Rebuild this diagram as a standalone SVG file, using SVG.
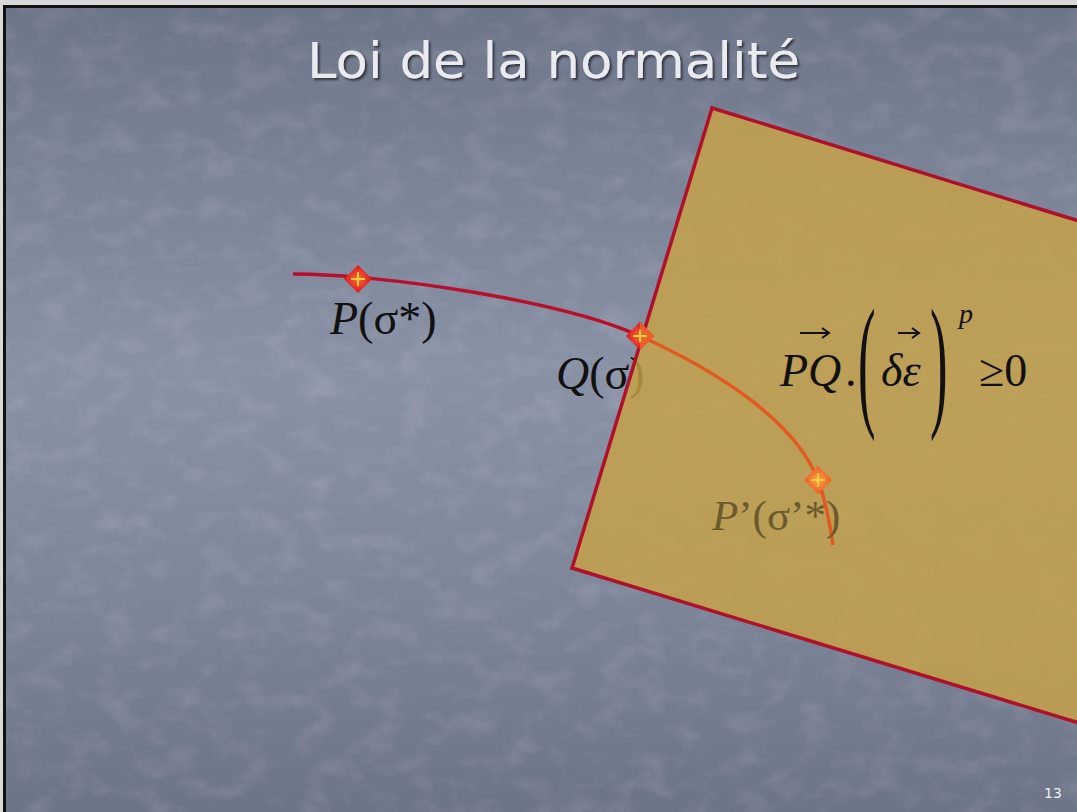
<svg xmlns="http://www.w3.org/2000/svg" width="1077" height="812" viewBox="0 0 1077 812">
<defs>
<linearGradient id="bg" x1="0" y1="0" x2="0" y2="1">
<stop offset="0" stop-color="#6d7588"/>
<stop offset="0.2" stop-color="#7a8296"/>
<stop offset="0.45" stop-color="#8991a5"/>
<stop offset="0.7" stop-color="#7f879b"/>
<stop offset="1" stop-color="#6c7487"/>
</linearGradient>
<filter id="tex" x="0" y="0" width="100%" height="100%">
<feTurbulence type="fractalNoise" baseFrequency="0.03 0.045" numOctaves="3" seed="7" result="n"/>
<feColorMatrix in="n" type="matrix" values="0 0 0 0 1  0 0 0 0 1  0 0 0 0 1  0 0 0 1.2 -0.55"/>
</filter>
<filter id="sh" x="-5%" y="-20%" width="110%" height="140%">
<feDropShadow dx="2" dy="2" stdDeviation="1" flood-color="#2a2e38" flood-opacity="0.9"/>
</filter>
<radialGradient id="redm"><stop offset="0" stop-color="#ff6a3a"/><stop offset="1" stop-color="#d8141e"/></radialGradient>
<radialGradient id="orm"><stop offset="0" stop-color="#ffa050"/><stop offset="1" stop-color="#ee5a1e"/></radialGradient>
<style>
.lbl{font-family:"Liberation Serif","Times New Roman",serif;font-size:46px;fill:#111}
.it{font-style:italic}
.title{font-family:"DejaVu Sans",Tahoma,sans-serif;font-size:50px;fill:#e9ebf0}
.cross{stroke:#ffd23a;stroke-width:2}
.par{font-family:"Liberation Serif","Times New Roman",serif;font-size:146px;fill:#111}
</style>
</defs>
<rect x="0" y="0" width="1077" height="812" fill="#d9d9d9"/>
<rect x="6" y="8" width="1071" height="804" fill="url(#bg)"/>
<rect x="6" y="8" width="1071" height="804" filter="url(#tex)" opacity="0.2"/>
<line x1="4.5" y1="6" x2="4.5" y2="812" stroke="#111" stroke-width="3"/>
<line x1="3" y1="6.5" x2="1077" y2="6.5" stroke="#111" stroke-width="3"/>

<g id="title"><text class="title" x="307" y="78" textLength="493" lengthAdjust="spacingAndGlyphs" filter="url(#sh)">Loi de la normalité</text></g>

<g id="labels-outside">
<text class="lbl" x="330" y="334"><tspan class="it">P</tspan>(σ*)</text>
<text class="lbl" x="556" y="389"><tspan class="it">Q</tspan>(σ)</text>
</g>

<g id="connectors">
<path id="curve-red" d="M293,274 C380,274 560,300 640,336" fill="none" stroke="#b8102c" stroke-width="3.5"/>
</g>

<g id="plane">
<polygon points="712,108 1092,225 1092,727 572,568" fill="#c8a246" fill-opacity="0.82" stroke="#b0102a" stroke-width="3.5" stroke-linejoin="miter"/>
</g>

<g id="connectors-inside">
<path d="M640,336 C715,370 795,420 818,480 C826,502 830,525 833,545" fill="none" stroke="#e05a22" stroke-width="3.5"/>
</g>

<g id="node-P">
<polygon points="358,265 372,279 358,293 344,279" fill="url(#redm)"/>
<line class="cross" x1="351" y1="279" x2="365" y2="279"/><line class="cross" x1="358" y1="272" x2="358" y2="286"/>
</g>
<g id="node-Q">
<polygon points="640,322 654,336 640,350 626,336" fill="url(#redm)"/>
<polygon points="640,322 654,336 640,350" fill="#ee6a2a" opacity="0.8"/>
<line class="cross" x1="633" y1="336" x2="647" y2="336" stroke="#ffb040"/>
<line class="cross" x1="640" y1="330" x2="640" y2="342" stroke="#ffb040"/>
</g>
<g id="node-Pp">
<polygon points="818,466 832,480 818,494 804,480" fill="url(#orm)"/>
<line class="cross" x1="811" y1="480" x2="825" y2="480" stroke="#ffd080"/><line class="cross" x1="818" y1="473" x2="818" y2="487" stroke="#ffd080"/>
<text class="lbl" x="712" y="530" style="fill:#6b5a2c;font-size:43px"><tspan class="it">P</tspan>’(σ’*)</text>
</g>

<g id="formula">
<text class="lbl it" x="780" y="386">PQ</text>
<text class="lbl" x="845" y="386">.</text>
<line x1="800" y1="333" x2="828" y2="333" stroke="#111" stroke-width="2"/>
<path d="M822,328 L829,333 L822,338" fill="none" stroke="#111" stroke-width="2"/>
<text class="par" transform="translate(858,410) scale(0.36,1)">(</text>
<text class="lbl it" x="881" y="386">δε</text>
<line x1="898" y1="333" x2="918" y2="333" stroke="#111" stroke-width="2"/>
<path d="M912,328 L919,333 L912,338" fill="none" stroke="#111" stroke-width="2"/>
<text class="par" transform="translate(930,410) scale(0.36,1)">)</text>
<text class="lbl it" x="959" y="323" style="font-size:28px">p</text>
<text class="lbl" x="979" y="386">≥0</text>
</g>

<g id="page"><text x="1044" y="798" font-family="DejaVu Sans,sans-serif" font-size="14" fill="#eef0f4">13</text></g>
</svg>
